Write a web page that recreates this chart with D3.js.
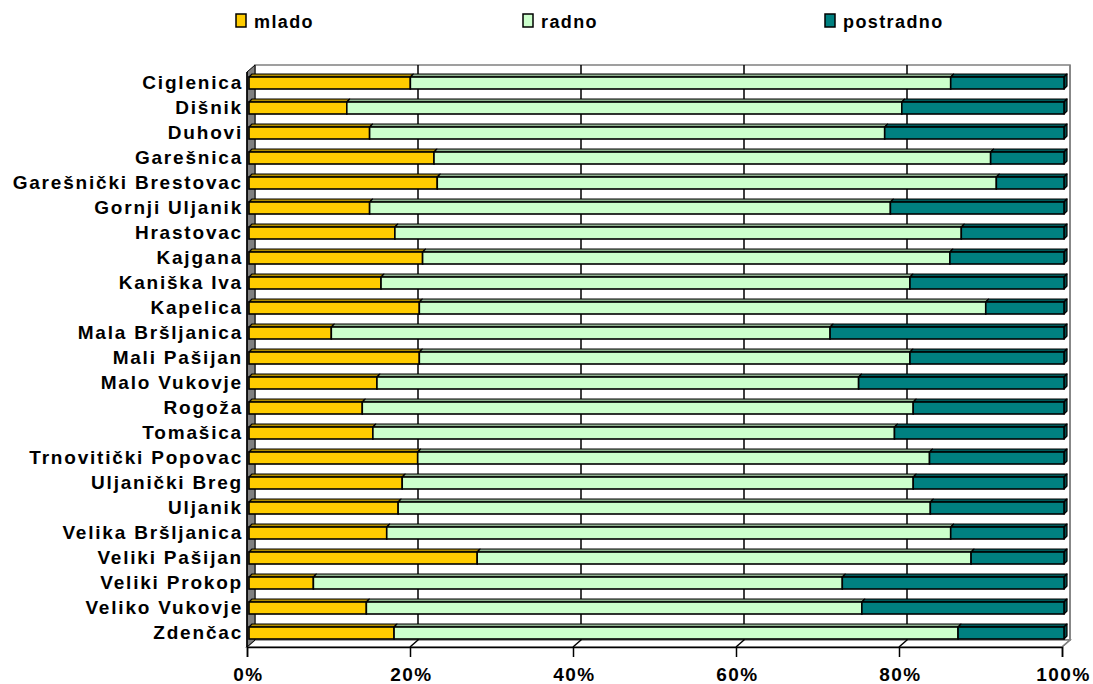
<!DOCTYPE html>
<html>
<head>
<meta charset="utf-8">
<script src="https://cdn.jsdelivr.net/npm/d3@7"></script>
<style>
  html, body { margin: 0; padding: 0; background: #fff; }
  svg { display: block; }
  text { font-family: "Liberation Sans", Arial, sans-serif; font-weight: bold; fill: #000; }
</style>
</head>
<body>
<svg id="chart" width="1093" height="684"></svg>
<script>
// Settlements (top to bottom)
const categories = [
  "Ciglenica", "Dišnik", "Duhovi", "Garešnica", "Garešnički Brestovac",
  "Gornji Uljanik", "Hrastovac", "Kajgana", "Kaniška Iva", "Kapelica",
  "Mala Bršljanica", "Mali Pašijan", "Malo Vukovje", "Rogoža", "Tomašica",
  "Trnovitički Popovac", "Uljanički Breg", "Uljanik", "Velika Bršljanica",
  "Veliki Pašijan", "Veliki Prokop", "Veliko Vukovje", "Zdenčac"
];

// Population shares per age group, in percent
const mlado = [19.8, 12.0, 14.8, 22.7, 23.1, 14.8, 17.9, 21.3, 16.2, 20.9,
               10.1, 20.9, 15.7, 13.9, 15.2, 20.7, 18.8, 18.3, 16.9, 28.0,
               7.9, 14.4, 17.8];
const radno = [66.3, 68.1, 63.2, 68.3, 68.6, 63.9, 69.5, 64.7, 64.9, 69.5,
               61.2, 60.2, 59.1, 67.6, 64.0, 62.8, 62.7, 65.3, 69.2, 60.6,
               64.9, 60.8, 69.2];
const postradno = [13.9, 19.9, 22.0, 9.0, 8.3, 21.3, 12.6, 14.0, 18.9, 9.6,
                   28.7, 18.9, 25.2, 18.5, 20.8, 16.5, 18.5, 16.4, 13.9, 11.4,
                   27.2, 24.8, 13.0];

const seriesNames = ["mlado", "radno", "postradno"];
const tickValues = [0, 20, 40, 60, 80, 100];
const tickLabels = ["0%", "20%", "40%", "60%", "80%", "100%"];

const colors = { mlado: "#FFCC00", radno: "#CCFFCC", postradno: "#008080" };
const topColors = { mlado: "#B38F00", radno: "#8FB38F", postradno: "#005A5A" };
const sideColors = { mlado: "#997A00", radno: "#7A997A", postradno: "#004D4D" };

const rows = categories.map((c, i) => ({
  name: c, mlado: mlado[i], radno: radno[i], postradno: postradno[i]
}));
const stack = d3.stack().keys(seriesNames)(rows);

const svg = d3.select("#chart");

// Back wall and its 3D offset to the front plane
const back = { x0: 255, x1: 1070, y0: 65, y1: 640 };
const depth = { dx: -8, dy: 7 };

const xBack = d3.scaleLinear().domain([0, 100]).range([back.x0, back.x1]);
const xFront = d3.scaleLinear().domain([0, 100]).range([back.x0 + depth.dx, back.x1 + depth.dx]);
const yBand = d3.scaleBand().domain(categories).range([back.y0, back.y1]);

// Bar geometry inside the depth of the plot
const barShiftX = -6, barShiftY = 5.5, barHalf = 6, barDepth = 3;
const barX = v => xBack(v) + barShiftX;
const barMid = c => yBand(c) + yBand.bandwidth() / 2 + barShiftY;

const poly = pts => "M" + pts.map(p => p.join(",")).join("L") + "Z";

// Back wall
svg.append("rect")
  .attr("x", back.x0).attr("y", back.y0)
  .attr("width", back.x1 - back.x0).attr("height", back.y1 - back.y0)
  .attr("fill", "#fff").attr("stroke", "#808080").attr("stroke-width", 1.5);

// Floor
svg.append("path")
  .attr("d", poly([[back.x0, back.y1], [back.x1, back.y1],
                   [back.x1 + depth.dx, back.y1 + depth.dy], [back.x0 + depth.dx, back.y1 + depth.dy]]))
  .attr("fill", "#fff").attr("stroke", "#808080").attr("stroke-width", 1.5);

// Left wall
svg.append("path")
  .attr("d", poly([[back.x0 + depth.dx, back.y0 + depth.dy], [back.x0, back.y0],
                   [back.x0, back.y1], [back.x0 + depth.dx, back.y1 + depth.dy]]))
  .attr("fill", "#808080").attr("stroke", "#000").attr("stroke-width", 1);

// Gridlines on back wall and floor
const grid = svg.append("g").attr("stroke", "#000").attr("stroke-width", 1.5).attr("fill", "none");
tickValues.filter(v => v > 0 && v < 100).forEach(v => {
  grid.append("path").attr("d",
    `M${xBack(v)},${back.y0}L${xBack(v)},${back.y1}L${xFront(v)},${back.y1 + depth.dy}`);
});
grid.append("path").attr("d",
  `M${xBack(100)},${back.y0}L${xBack(100)},${back.y1}L${xFront(100)},${back.y1 + depth.dy}`)
  .attr("stroke", "#808080");

// Front value axis
const axisY = back.y1 + depth.dy;
const xAxis = d3.axisBottom(xFront).tickValues(tickValues)
  .tickFormat((d, i) => tickLabels[i]).tickSize(10);
const axisG = svg.append("g").attr("transform", `translate(0,${axisY})`).call(xAxis);
axisG.select(".domain").attr("stroke", "#000").attr("stroke-width", 1.5);
axisG.selectAll(".tick line").attr("stroke", "#000").attr("stroke-width", 1.5);
axisG.selectAll(".tick text")
  .attr("y", 34).attr("dy", null).attr("dx", "1px")
  .style("font-family", '"Liberation Sans", Arial, sans-serif')
  .style("font-weight", "bold").style("font-size", "19px")
  .style("letter-spacing", "1.5px").attr("fill", "#000");

// Front category axis line
svg.append("line")
  .attr("x1", back.x0 + depth.dx).attr("x2", back.x0 + depth.dx)
  .attr("y1", back.y0 + depth.dy).attr("y2", axisY)
  .attr("stroke", "#000").attr("stroke-width", 1.5);

// Bars (3D boxes: top face, end face, front face)
const barsG = svg.append("g");
stack.forEach(layer => {
  const key = layer.key;
  const isLast = key === seriesNames[seriesNames.length - 1];
  layer.forEach(seg => {
    const c = seg.data.name;
    const xa = barX(seg[0]), xb = barX(seg[1]);
    const yt = barMid(c) - barHalf, yb = barMid(c) + barHalf;
    // top face
    barsG.append("path")
      .attr("d", poly([[xa, yt], [xa + barDepth, yt - barDepth], [xb + barDepth, yt - barDepth], [xb, yt]]))
      .attr("fill", topColors[key]).attr("stroke", "#000").attr("stroke-width", 1.2)
      .attr("stroke-linejoin", "round");
    if (isLast) {
      barsG.append("path")
        .attr("d", poly([[xb, yt], [xb + barDepth, yt - barDepth], [xb + barDepth, yb - barDepth], [xb, yb]]))
        .attr("fill", sideColors[key]).attr("stroke", "#000").attr("stroke-width", 1.2)
        .attr("stroke-linejoin", "round");
    }
    // front face
    barsG.append("rect")
      .attr("x", xa).attr("y", yt)
      .attr("width", xb - xa).attr("height", yb - yt)
      .attr("fill", colors[key]).attr("stroke", "#000").attr("stroke-width", 1.6);
  });
});

// Category labels
svg.append("g").selectAll("text").data(categories).join("text")
  .attr("x", 243)
  .attr("y", d => barMid(d) - 1)
  .attr("dy", "0.36em")
  .attr("text-anchor", "end")
  .style("font-size", "19px")
  .style("letter-spacing", "1.8px")
  .text(d => d);

// Legend
const legendX = [236, 523, 825];
const legend = svg.append("g");
seriesNames.forEach((s, i) => {
  legend.append("rect")
    .attr("x", legendX[i]).attr("y", 14).attr("width", 10).attr("height", 13)
    .attr("fill", colors[s]).attr("stroke", "#000").attr("stroke-width", 1.5);
  legend.append("text")
    .attr("x", legendX[i] + 18).attr("y", 28)
    .style("font-size", "18px").style("letter-spacing", "1.4px")
    .text(s);
});
</script>
</body>
</html>
